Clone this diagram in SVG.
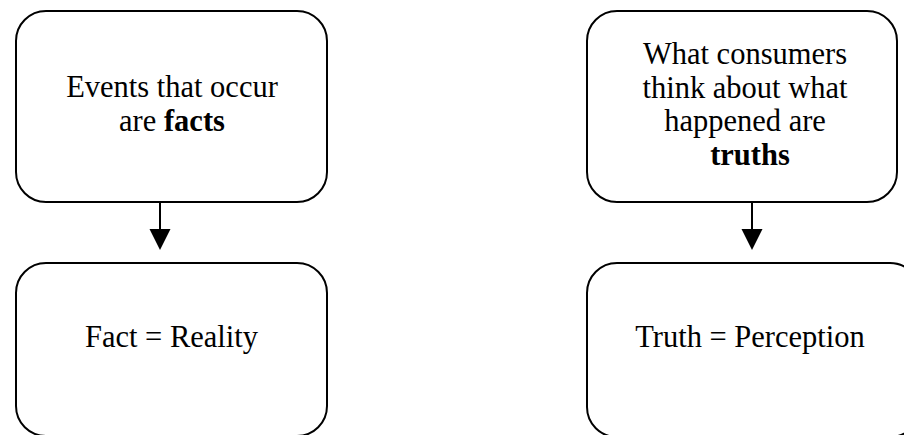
<svg xmlns="http://www.w3.org/2000/svg" width="904" height="435" viewBox="0 0 904 435">
<style>
.box{fill:#fff;stroke:#000;stroke-width:2}
.t{font-family:"Liberation Serif","Times New Roman",serif;font-size:30.5px;fill:#000;text-anchor:middle}
.b{font-weight:bold}
.ln{stroke:#000;stroke-width:2;fill:none}
</style>
<defs>
<marker id="ah" viewBox="0 0 21 21" markerWidth="21" markerHeight="21" refX="10.5" refY="21" markerUnits="userSpaceOnUse" orient="auto-start-reverse">
<path d="M0,0 L21,0 L10.5,21 Z" fill="#000"/>
</marker>
</defs>
<rect width="904" height="435" fill="#fff"/>
<g id="connectors">
<line class="ln" x1="160" y1="202" x2="160" y2="229"/>
<path d="M149.5,229 L170.5,229 L160,250 Z" fill="#000"/>
<line class="ln" x1="752" y1="202" x2="752" y2="229"/>
<path d="M741.5,229 L762.5,229 L752,250 Z" fill="#000"/>
</g>
<g id="facts">
<rect class="box" x="16" y="11" width="311" height="191" rx="30" ry="30"/>
<text class="t" x="172" y="97">Events that occur</text>
<text class="t" x="172" y="131">are <tspan class="b">facts</tspan></text>
</g>
<g id="reality">
<rect class="box" x="16" y="263" width="311" height="173" rx="30" ry="30"/>
<text class="t" x="171.5" y="347">Fact = Reality</text>
</g>
<g id="truths">
<rect class="box" x="587" y="11" width="310" height="191" rx="30" ry="30"/>
<text class="t" x="745" y="64">What consumers</text>
<text class="t" x="745" y="97.5">think about what</text>
<text class="t" x="745" y="131">happened are</text>
<text class="t b" x="750" y="164.5">truths</text>
</g>
<g id="perception">
<rect class="box" x="587" y="263" width="333" height="174" rx="30" ry="30"/>
<text class="t" x="750" y="347">Truth = Perception</text>
</g>
</svg>
